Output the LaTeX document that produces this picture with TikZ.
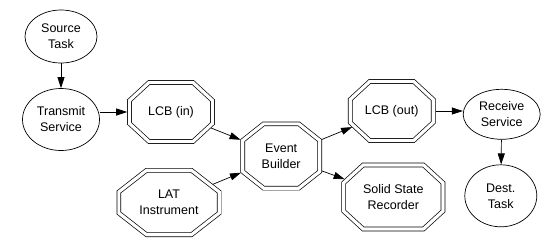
\documentclass[tikz,border=0pt]{standalone}
\usepackage{fontspec}
\setmainfont{Liberation Sans}
\usetikzlibrary{shapes.geometric,arrows.meta,intersections}
\tikzset{
  txt/.style={inner sep=0pt, align=center, font=\fontsize{12.5}{16}\selectfont},
  ell/.style={txt, draw, line width=0.7pt, ellipse},
  octbox/.style={txt, rectangle, outer sep=0pt},
  dbl/.style={draw, line width=0.7pt, double, double distance=3.2pt, line join=miter},
  arr/.style={-{Triangle[length=11pt,width=7pt]}, line width=0.7pt}
}
% name, x, y, W, H, chamfer x, chamfer y, text
\newcommand\octo[8]{%
  \node[octbox, minimum width=#4pt, minimum height=#5pt] (#1) at (#2,#3) {#8};
  \draw[dbl, name path=#1-b]
    ([xshift=#6pt]#1.north west) -- ([xshift=-#6pt]#1.north east)
    -- ([yshift=-#7pt]#1.north east) -- ([yshift=#7pt]#1.south east)
    -- ([xshift=-#6pt]#1.south east) -- ([xshift=#6pt]#1.south west)
    -- ([yshift=#7pt]#1.south west) -- ([yshift=-#7pt]#1.north west) -- cycle;
}
% from, to, id
\newcommand\octedge[3]{%
  \path[name path=#3] (#1.center) -- (#2.center);
  \path[name intersections={of=#1-b and #3, by=#3s}];
  \path[name intersections={of=#2-b and #3, by=#3e}];
  \draw[arr, shorten <=2.3pt, shorten >=2.3pt] (#3s) -- (#3e);
}
\begin{document}
\begin{tikzpicture}[x=1pt,y=-1pt]
\fill[white] (0,0) rectangle (559,239);
\useasboundingbox (0,0) rectangle (559,239);
\node[ell, minimum width=72pt, minimum height=53pt] (src) at (61,36.5) {Source\\Task};
\node[ell, minimum width=77pt, minimum height=62pt] (trans) at (61,119.5) {Transmit\\Service};
\node[ell, minimum width=77pt, minimum height=50pt] (recv) at (501.7,114.3) {Receive\\Service};
\node[ell, minimum width=72pt, minimum height=62pt] (dest) at (500.8,195.8) {Dest.\\Task};
\octo{lcbin}{171}{112}{83}{59}{19.5}{18}{LCB (in)}
\octo{lcbout}{391.7}{111}{83}{59}{19.5}{18}{LCB (out)}
\octo{event}{281.2}{156}{77}{64.3}{20.9}{16.6}{Event\\Builder}
\octo{lat}{169}{202.5}{100.3}{64.4}{27.7}{21.6}{LAT\\Instrument}
\octo{ssr}{393.3}{197}{99.3}{64}{19.5}{17.9}{Solid State\\Recorder}
\draw[arr] (src) -- (trans);
\draw[arr, shorten >=2.3pt] (trans.east |- lcbin.west) -- (lcbin.west);
\octedge{lcbin}{event}{e1}
\octedge{lat}{event}{e2}
\octedge{event}{lcbout}{e3}
\octedge{event}{ssr}{e4}
\draw[arr, shorten <=2.3pt] (lcbout.east) -- (recv.west |- lcbout.east);
\draw[arr] (recv) -- (dest);
\end{tikzpicture}
\end{document}
